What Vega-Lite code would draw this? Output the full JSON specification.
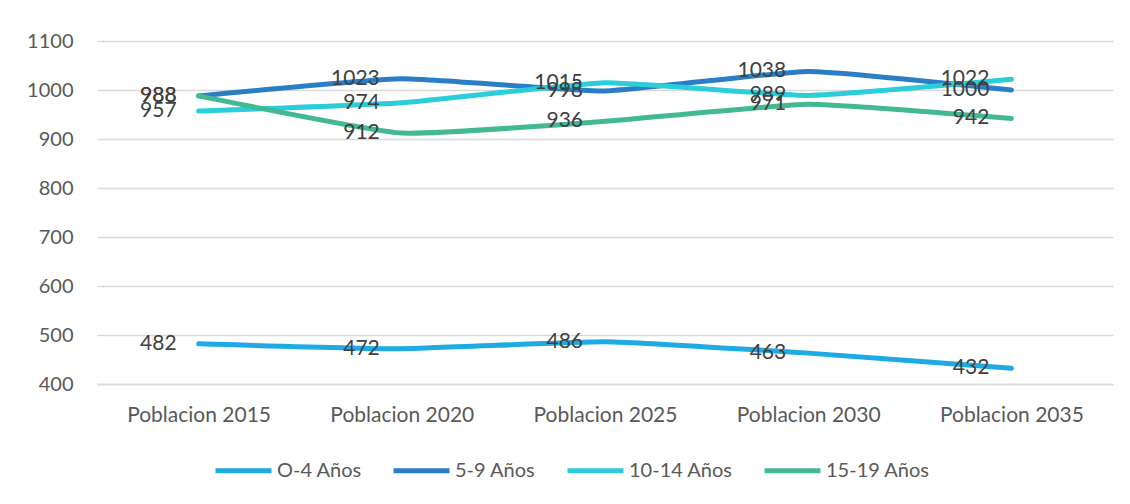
{
  "$schema": "https://vega.github.io/schema/vega-lite/v6.json",
  "width": 1016,
  "height": 343,
  "autosize": {"type": "none"},
  "padding": {"left": 97, "top": 41, "right": 17, "bottom": 120},
  "background": "white",
  "config": {
    "view": {"stroke": null},
    "font": "Lato"
  },
  "data": {
    "values": [
      {"periodo": "Poblacion 2015", "grupo": "O-4 Años", "valor": 482},
      {"periodo": "Poblacion 2020", "grupo": "O-4 Años", "valor": 472},
      {"periodo": "Poblacion 2025", "grupo": "O-4 Años", "valor": 486},
      {"periodo": "Poblacion 2030", "grupo": "O-4 Años", "valor": 463},
      {"periodo": "Poblacion 2035", "grupo": "O-4 Años", "valor": 432},
      {"periodo": "Poblacion 2015", "grupo": "5-9 Años", "valor": 988},
      {"periodo": "Poblacion 2020", "grupo": "5-9 Años", "valor": 1023},
      {"periodo": "Poblacion 2025", "grupo": "5-9 Años", "valor": 998},
      {"periodo": "Poblacion 2030", "grupo": "5-9 Años", "valor": 1038},
      {"periodo": "Poblacion 2035", "grupo": "5-9 Años", "valor": 1000},
      {"periodo": "Poblacion 2015", "grupo": "10-14 Años", "valor": 957},
      {"periodo": "Poblacion 2020", "grupo": "10-14 Años", "valor": 974},
      {"periodo": "Poblacion 2025", "grupo": "10-14 Años", "valor": 1015},
      {"periodo": "Poblacion 2030", "grupo": "10-14 Años", "valor": 989},
      {"periodo": "Poblacion 2035", "grupo": "10-14 Años", "valor": 1022},
      {"periodo": "Poblacion 2015", "grupo": "15-19 Años", "valor": 988},
      {"periodo": "Poblacion 2020", "grupo": "15-19 Años", "valor": 912},
      {"periodo": "Poblacion 2025", "grupo": "15-19 Años", "valor": 936},
      {"periodo": "Poblacion 2030", "grupo": "15-19 Años", "valor": 971},
      {"periodo": "Poblacion 2035", "grupo": "15-19 Años", "valor": 942}
    ]
  },
  "encoding": {
    "x": {
      "field": "periodo",
      "type": "ordinal",
      "sort": ["Poblacion 2015", "Poblacion 2020", "Poblacion 2025", "Poblacion 2030", "Poblacion 2035"],
      "scale": {"type": "point", "padding": 0.5},
      "axis": {
        "title": null,
        "labelAngle": 0,
        "ticks": false,
        "domain": true,
        "domainColor": "#d9d9d9",
        "domainWidth": 1.5,
        "grid": false,
        "labelFont": "Lato",
        "labelFontSize": 21,
        "labelColor": "#595959",
        "labelPadding": 20
      }
    },
    "y": {
      "field": "valor",
      "type": "quantitative",
      "scale": {"domain": [400, 1100], "nice": false, "zero": false},
      "axis": {
        "title": null,
        "values": [400, 500, 600, 700, 800, 900, 1000, 1100],
        "format": "d",
        "domain": false,
        "ticks": false,
        "grid": true,
        "gridColor": "#d9d9d9",
        "gridWidth": 1.5,
        "labelFont": "Lato",
        "labelFontSize": 20,
        "labelColor": "#595959",
        "labelPadding": 24
      }
    }
  },
  "layer": [
    {
      "mark": {"type": "line", "strokeWidth": 5, "interpolate": "cardinal", "tension": 0.6, "strokeCap": "round", "strokeJoin": "round"},
      "encoding": {
        "color": {
          "field": "grupo",
          "type": "nominal",
          "sort": ["O-4 Años", "5-9 Años", "10-14 Años", "15-19 Años"],
          "scale": {
            "domain": ["O-4 Años", "5-9 Años", "10-14 Años", "15-19 Años"],
            "range": ["#1eaae2", "#2a7ec6", "#2acdd9", "#42b992"]
          },
          "legend": {
            "title": null,
            "orient": "none",
            "direction": "horizontal",
            "legendX": 116,
            "legendY": 399,
            "symbolType": "stroke",
            "symbolSize": 3136,
            "symbolStrokeWidth": 5,
            "labelFont": "Lato",
            "labelFontSize": 20,
            "labelColor": "#595959",
            "labelOffset": 3,
            "columnPadding": 21
          }
        }
      }
    },
    {
      "mark": {"type": "text", "align": "right", "baseline": "middle", "dx": -22, "font": "Lato", "fontSize": 21, "color": "#404040"},
      "encoding": {
        "text": {"field": "valor", "type": "quantitative"},
        "detail": {"field": "grupo", "type": "nominal"}
      }
    }
  ]
}
